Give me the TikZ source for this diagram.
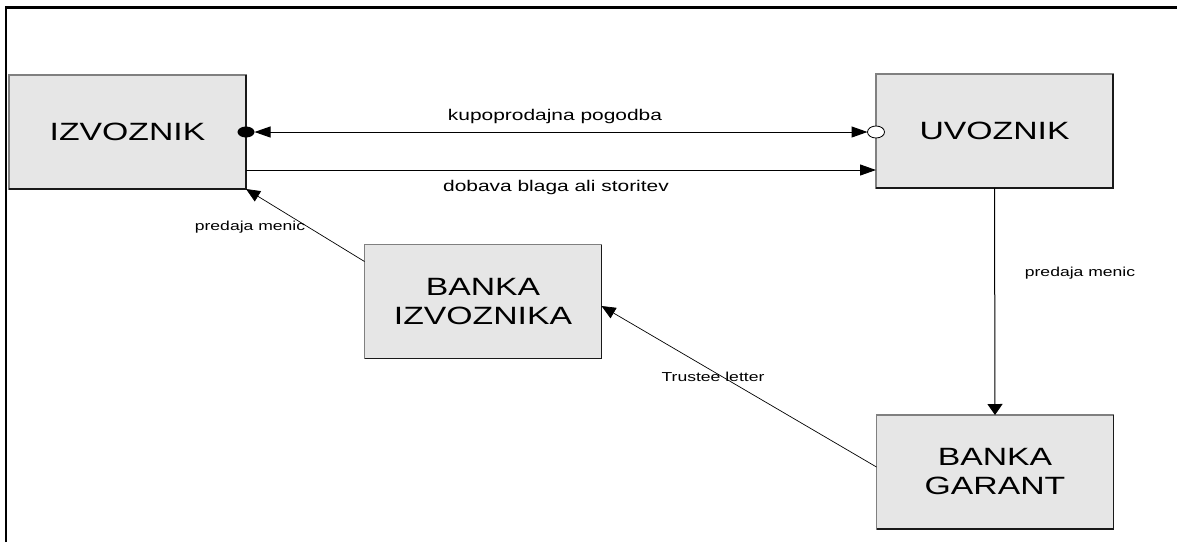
\documentclass[tikz,border=0pt]{standalone}
\usepackage{fontspec}
\setmainfont[FakeStretch=1.35]{Liberation Sans}
\usetikzlibrary{arrows.meta,shapes.geometric,calc}
\definecolor{boxfill}{RGB}{230,230,230}
\tikzset{
  htip/.tip={Triangle[length=16pt,width=11pt]},
  vtip/.tip={Triangle[length=11pt,width=15pt]},
  dtip/.tip={Triangle[length=14pt,width=12pt]},
}
\begin{document}
\begin{tikzpicture}[x=1pt,y=-1pt,
  box/.style={draw=black!50, line width=1.2pt, fill=boxfill, minimum width=237pt,
    minimum height=114pt, inner sep=0pt, outer sep=0pt, align=center,
    font=\fontsize{25}{29}\selectfont},
  boxshade/.style={line width=1.4pt, black!90},
  conn/.style={line width=1pt, black},
  thinconn/.style={line width=0.7pt, black},
  lbl/.style={font=\fontsize{13}{15}\selectfont, inner sep=0pt},
  biglbl/.style={font=\fontsize{15.5}{18}\selectfont, inner sep=0pt},
  blackdot/.style={ellipse, fill=black, minimum width=17pt, minimum height=11pt, inner sep=0pt, outer sep=0pt},
  opendot/.style={ellipse, draw=black, line width=0.8pt, fill=white, minimum width=17pt, minimum height=12pt, inner sep=0pt, outer sep=0pt},
]
\useasboundingbox (0,0) rectangle (1177,542);
% page frame (left and top edges)
\draw[line width=2.5pt] (6,542) -- (6,7.5) -- (1177,7.5);

% parties
\node[box] (izv) at (127.5,132) {IZVOZNIK};
\node[box] (uvo) at (994.5,131) {UVOZNIK};
\node[box] (bi) at (483,301.5) {BANKA\\IZVOZNIKA};
\node[box] (bg) at (995,472) {BANKA\\GARANT};
\foreach \n in {izv,uvo,bi,bg}
  \draw[boxshade] (\n.south west) -- (\n.south east) -- (\n.north east);

% sales contract
\node[blackdot] (kd) at (izv.east) {};
\node[opendot] (ko) at (uvo.west |- izv.east) {};
\draw[conn, htip-htip] (kd) -- (ko);
\node[biglbl] (l1) at (555,116) {kupoprodajna pogodba};

% delivery
\coordinate (db) at ($(izv.east)+(0,38)$);
\draw[conn, -htip] (db) -- (uvo.west |- db);
\node[biglbl] (l2) at (556,187) {dobava blaga ali storitev};

% bills handed over to the exporter
\coordinate (pm) at ($(bi.north west)+(0,17)$);
\draw[thinconn, -dtip] (pm) -- (izv.south east);
\node[lbl] (l3) at (250,227) {predaja menic};

% bills handed over to the guarantor bank
\draw[conn, -vtip] (uvo.south) -- (bg.north);
\node[lbl] (l4) at (1080,273) {predaja menic};

% trustee letter
\coordinate (tl1) at ($(bg.west)+(0,-5)$);
\coordinate (tl2) at ($(bi.east)+(0,4.5)$);
\draw[thinconn, -dtip] (tl1) -- (tl2);
\node[lbl] (l5) at (713,377) {Trustee letter};
\end{tikzpicture}
\end{document}
